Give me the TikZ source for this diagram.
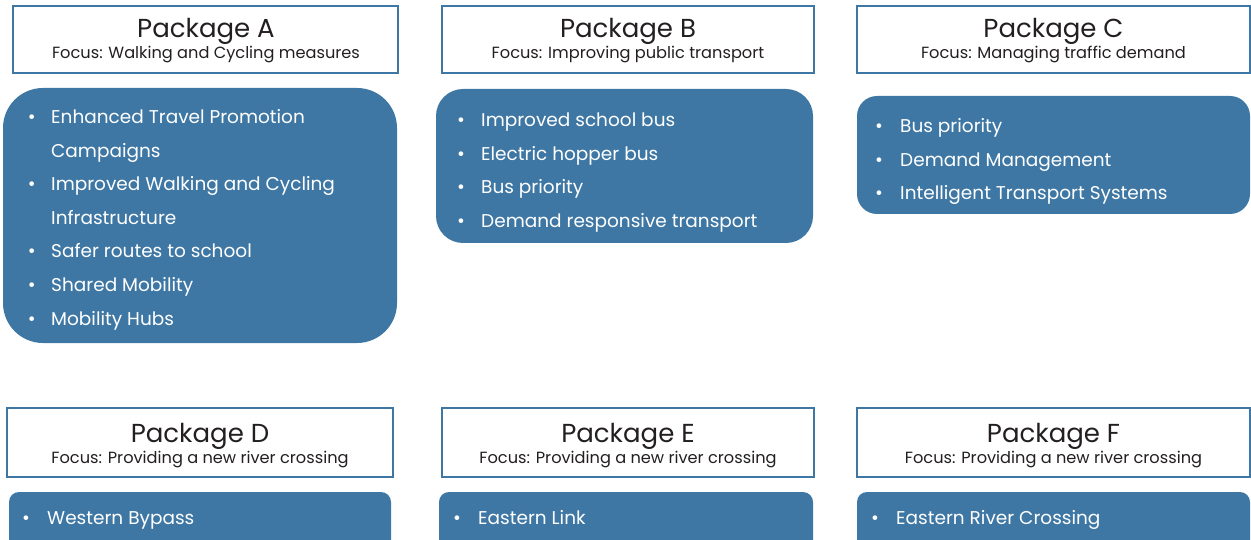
\documentclass[tikz,border=0pt]{standalone}
\usepackage{fontspec}
\setmainfont{Poppins}
\definecolor{pkblue}{HTML}{3E77A4}
\definecolor{pkdark}{HTML}{231F20}
\tikzset{
 hdr/.style={draw=pkblue, line width=2.5pt, fill=white, rectangle, inner sep=0pt},
 body/.style={fill=pkblue, rectangle, inner sep=0pt},
 ttl/.style={anchor=base, text=pkdark, font=\fontsize{26}{26}\selectfont, inner sep=0pt},
 sub/.style={anchor=base, text=pkdark, font=\fontsize{16.2}{16.2}\selectfont, inner sep=0pt},
 itm/.style={anchor=base west, text=white, font=\fontsize{18.5}{18.5}\selectfont, inner sep=0pt},
 bul/.style={anchor=base, text=white, font=\fontsize{19}{19}\selectfont, inner sep=0pt},
}
\newcommand{\bitem}[5]{\node[bul] (#1b) at (#2,#4) {\textbullet}; \node[itm] (#1) at (#3,#4) {#5};}
\begin{document}
\begin{tikzpicture}[x=1pt,y=-1pt]
\useasboundingbox (0,0) rectangle (1251,540);
\clip (0,0) rectangle (1251,540);
% headers top
\node[hdr, minimum width=385pt, minimum height=67pt] (hA) at (205.5,39.5) {};
\node[hdr, minimum width=372pt, minimum height=67pt] (hB) at (628,39.5) {};
\node[hdr, minimum width=393pt, minimum height=67pt] (hC) at (1053.5,39.5) {};
\node[ttl] (tA) at (206,38) {Package A};
\node[sub] (sA) at (206,59) {Focus: Walking and Cycling measures};
\node[ttl] (tB) at (628,38) {Package B};
\node[sub] (sB) at (628,59) {Focus: Improving public transport};
\node[ttl] (tC) at (1053.5,38) {Package C};
\node[sub] (sC) at (1053.5,59) {Focus: Managing traffic demand};
% bodies top
\node[body, rounded corners=40pt, minimum width=394pt, minimum height=255pt] (bA) at (200,215.5) {};
\node[body, rounded corners=27pt, minimum width=377pt, minimum height=154pt] (bB) at (624.5,166) {};
\node[body, rounded corners=20pt, minimum width=393pt, minimum height=118pt] (bC) at (1053.5,155) {};
\bitem{a1}{31.7}{51}{124}{Enhanced Travel Promotion}
\node[itm] (a1c) at (51,157.5) {Campaigns};
\bitem{a2}{31.7}{51}{191}{Improved Walking and Cycling}
\node[itm] (a2c) at (51,224.5) {Infrastructure};
\bitem{a3}{31.7}{51}{258}{Safer routes to school}
\bitem{a4}{31.7}{51}{291.5}{Shared Mobility}
\bitem{a5}{31.7}{51}{325}{Mobility Hubs}
\bitem{b1}{461}{481}{127}{Improved school bus}
\bitem{b2}{461}{481}{160.5}{Electric hopper bus}
\bitem{b3}{461}{481}{194}{Bus priority}
\bitem{b4}{461}{481}{227.5}{Demand responsive transport}
\bitem{c1}{879}{900}{133}{Bus priority}
\bitem{c2}{879}{900}{166.5}{Demand Management}
\bitem{c3}{879}{900}{200}{Intelligent Transport Systems}
% headers bottom
\node[hdr, minimum width=386pt, minimum height=69pt] (hD) at (200,442.5) {};
\node[hdr, minimum width=372pt, minimum height=69pt] (hE) at (628,442.5) {};
\node[hdr, minimum width=393pt, minimum height=69pt] (hF) at (1053.5,442.5) {};
\node[ttl] (tD) at (200,442) {Package D};
\node[sub] (sD) at (200,463) {Focus: Providing a new river crossing};
\node[ttl] (tE) at (628,442) {Package E};
\node[sub] (sE) at (628,463) {Focus: Providing a new river crossing};
\node[ttl] (tF) at (1053.5,442) {Package F};
\node[sub] (sF) at (1053.5,463) {Focus: Providing a new river crossing};
% bodies bottom
\node[body, rounded corners=10pt, minimum width=382pt, minimum height=68pt] (bD) at (200,526) {};
\node[body, rounded corners=10pt, minimum width=374pt, minimum height=68pt] (bE) at (626,526) {};
\node[body, rounded corners=10pt, minimum width=393pt, minimum height=68pt] (bF) at (1053.5,526) {};
\bitem{d1}{26}{47}{524}{Western Bypass}
\bitem{e1}{457}{478}{524}{Eastern Link}
\bitem{f1}{875}{896}{524}{Eastern River Crossing}
\end{tikzpicture}
\end{document}
